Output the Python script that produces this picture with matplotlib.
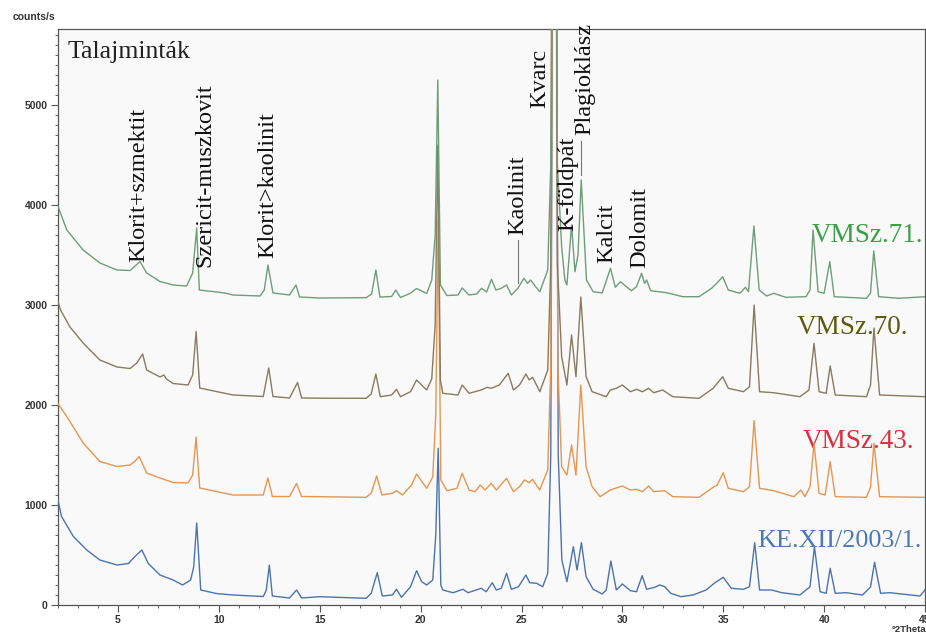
import matplotlib
matplotlib.use("Agg")
import matplotlib.pyplot as plt
from matplotlib.ticker import MultipleLocator

# ---------------- data ----------------
# (2theta [deg], counts/s) pairs for each diffractogram
vmsz71 = [(2.0, 4000), (2.46, 3750), (3.27, 3550), (4.1, 3420), (4.95, 3350), (5.6, 3345),
          (5.9, 3400), (6.09, 3435), (6.42, 3320), (7.08, 3235), (7.73, 3200), (8.4, 3190),
          (8.7, 3320), (8.9, 3770), (9.03, 3150), (10.3, 3120), (10.7, 3100), (12.04, 3090),
          (12.25, 3150), (12.43, 3400), (12.68, 3120), (13.5, 3100), (13.82, 3200), (14.0, 3080),
          (15.0, 3070), (17.3, 3073), (17.57, 3110), (17.78, 3350), (17.98, 3080), (18.56, 3085),
          (18.77, 3150), (19.0, 3075), (19.47, 3115), (19.8, 3165), (20.3, 3115), (20.55, 3250),
          (20.72, 3700), (20.85, 5250), (20.98, 3200), (21.3, 3095), (21.85, 3100), (22.06, 3170),
          (22.4, 3100), (22.77, 3110), (23.02, 3167), (23.27, 3130), (23.51, 3257), (23.73, 3150),
          (24.0, 3167), (24.26, 3200), (24.5, 3100), (24.82, 3167), (25.12, 3267), (25.3, 3217),
          (25.45, 3250), (25.7, 3183), (25.91, 3133), (26.3, 3350), (26.45, 4400), (26.62, 12000),
          (26.78, 4400), (26.99, 3583), (27.15, 3250), (27.25, 3200), (27.48, 3800), (27.65, 3333),
          (27.8, 3500), (27.96, 4250), (28.22, 3250), (28.55, 3133), (29.0, 3120), (29.41, 3367),
          (29.65, 3177), (29.9, 3233), (30.2, 3183), (30.45, 3143), (30.7, 3183), (30.95, 3317),
          (31.1, 3217), (31.2, 3250), (31.4, 3143), (32.19, 3123), (33.0, 3083), (33.8, 3083),
          (34.42, 3167), (34.75, 3233), (34.97, 3283), (35.25, 3150), (35.83, 3117), (36.1, 3177),
          (36.25, 3133), (36.52, 3790), (36.78, 3150), (37.15, 3090), (37.5, 3117), (38.1, 3077),
          (39.1, 3083), (39.3, 3150), (39.45, 3750), (39.7, 3133), (40.0, 3117), (40.28, 3433),
          (40.5, 3083), (42.1, 3067), (42.3, 3120), (42.46, 3540), (42.7, 3083), (43.7, 3067),
          (45.0, 3083)]

vmsz70 = [(2.0, 3050), (2.15, 2950), (2.62, 2780), (3.27, 2620), (4.1, 2450), (4.95, 2380),
          (5.6, 2365), (5.93, 2420), (6.22, 2510), (6.42, 2350), (7.08, 2280), (7.28, 2300),
          (7.4, 2260), (7.73, 2215), (8.47, 2200), (8.7, 2300), (8.87, 2735), (9.05, 2170),
          (9.87, 2135), (10.7, 2100), (12.2, 2085), (12.47, 2370), (12.68, 2085), (13.5, 2070),
          (13.9, 2225), (14.1, 2070), (15.0, 2068), (17.3, 2067), (17.55, 2110), (17.78, 2310),
          (18.0, 2083), (18.56, 2100), (18.8, 2157), (19.0, 2083), (19.5, 2133), (19.8, 2250),
          (20.3, 2150), (20.55, 2260), (20.72, 2800), (20.85, 4600), (20.98, 2250), (21.1, 2117),
          (21.85, 2100), (22.06, 2200), (22.4, 2117), (23.0, 2150), (23.3, 2177), (23.5, 2167),
          (23.9, 2200), (24.34, 2317), (24.6, 2150), (24.9, 2200), (25.22, 2310), (25.38, 2250),
          (25.55, 2277), (25.91, 2133), (26.3, 2350), (26.45, 3400), (26.62, 12000), (26.78, 3400),
          (26.99, 2483), (27.25, 2200), (27.48, 2700), (27.7, 2283), (27.94, 3080), (28.2, 2283),
          (28.5, 2133), (29.2, 2083), (29.4, 2150), (29.7, 2167), (30.0, 2200), (30.4, 2133),
          (30.7, 2157), (31.0, 2133), (31.3, 2167), (31.55, 2123), (32.0, 2150), (32.5, 2083),
          (33.8, 2067), (34.5, 2167), (34.97, 2283), (35.25, 2167), (36.0, 2133), (36.3, 2183),
          (36.53, 3000), (36.8, 2133), (37.5, 2123), (38.8, 2083), (39.25, 2150), (39.5, 2617),
          (39.75, 2133), (40.1, 2117), (40.3, 2390), (40.55, 2100), (42.1, 2083), (42.3, 2200),
          (42.47, 2770), (42.75, 2100), (45.0, 2083)]

vmsz43 = [(2.0, 2020), (2.46, 1885), (3.27, 1620), (4.1, 1435), (4.95, 1385), (5.6, 1400),
          (5.85, 1440), (6.05, 1485), (6.42, 1320), (7.08, 1270), (7.73, 1225), (8.47, 1220),
          (8.7, 1300), (8.87, 1680), (9.05, 1170), (9.87, 1135), (10.7, 1100), (12.2, 1100),
          (12.43, 1270), (12.65, 1085), (13.5, 1085), (13.85, 1215), (14.1, 1085), (15.0, 1083),
          (17.3, 1077), (17.55, 1120), (17.82, 1290), (18.08, 1100), (18.6, 1117), (18.8, 1143),
          (19.1, 1100), (19.55, 1200), (19.8, 1310), (20.3, 1167), (20.6, 1280), (20.75, 1900),
          (20.87, 3850), (21.0, 1250), (21.3, 1143), (21.8, 1167), (22.06, 1317), (22.4, 1150),
          (22.7, 1133), (22.95, 1200), (23.2, 1150), (23.5, 1217), (23.75, 1150), (24.26, 1267),
          (24.6, 1133), (24.9, 1183), (25.15, 1250), (25.38, 1223), (25.55, 1257), (25.9, 1150),
          (26.3, 1350), (26.45, 2400), (26.64, 12000), (26.8, 2400), (26.99, 1383), (27.25, 1300),
          (27.48, 1600), (27.7, 1300), (27.94, 2200), (28.2, 1383), (28.5, 1183), (28.9, 1083),
          (29.4, 1150), (30.0, 1190), (30.4, 1150), (30.7, 1157), (31.0, 1133), (31.3, 1190),
          (31.55, 1133), (32.1, 1143), (32.5, 1083), (33.8, 1077), (34.5, 1177), (34.7, 1200),
          (35.0, 1323), (35.25, 1167), (36.0, 1133), (36.3, 1183), (36.53, 1843), (36.8, 1167),
          (37.5, 1143), (38.5, 1083), (38.85, 1150), (39.05, 1083), (39.3, 1183), (39.5, 1617),
          (39.75, 1117), (40.05, 1100), (40.3, 1433), (40.55, 1083), (42.1, 1077), (42.3, 1180),
          (42.47, 1617), (42.75, 1083), (45.0, 1077)]

ke_xii = [(2.0, 1070), (2.2, 885), (2.79, 685), (3.45, 550), (4.1, 450), (4.95, 400),
          (5.52, 415), (5.76, 470), (6.18, 550), (6.5, 415), (7.08, 300), (7.73, 250),
          (8.2, 200), (8.6, 250), (8.75, 380), (8.9, 820), (9.1, 150), (9.87, 115),
          (10.7, 100), (12.2, 85), (12.35, 150), (12.5, 400), (12.65, 90), (13.5, 70),
          (13.85, 150), (14.1, 70), (15.0, 83), (17.3, 67), (17.55, 117), (17.85, 323),
          (18.1, 90), (18.6, 100), (18.8, 157), (19.05, 77), (19.5, 183), (19.8, 343),
          (20.05, 233), (20.3, 200), (20.6, 250), (20.75, 700), (20.87, 1567), (21.0, 200),
          (21.1, 150), (21.6, 123), (22.1, 157), (22.35, 123), (23.0, 167), (23.25, 133),
          (23.55, 223), (23.75, 150), (24.0, 167), (24.26, 317), (24.5, 157), (24.85, 183),
          (25.22, 300), (25.4, 223), (25.75, 217), (26.05, 183), (26.3, 317), (26.45, 1500),
          (26.64, 12000), (26.82, 1500), (27.0, 450), (27.25, 233), (27.57, 583), (27.75, 350),
          (27.97, 623), (28.2, 283), (28.55, 157), (29.0, 110), (29.2, 150), (29.43, 440),
          (29.7, 150), (30.0, 210), (30.4, 143), (30.7, 133), (30.98, 293), (31.2, 157),
          (31.6, 177), (31.85, 200), (32.1, 183), (32.4, 117), (32.9, 83), (33.5, 100),
          (34.15, 150), (34.55, 217), (35.0, 277), (35.4, 167), (36.0, 157), (36.3, 183),
          (36.56, 623), (36.8, 150), (37.4, 150), (37.9, 123), (38.8, 100), (39.3, 183),
          (39.52, 583), (39.8, 133), (40.1, 117), (40.3, 367), (40.55, 117), (41.1, 123),
          (41.9, 100), (42.3, 180), (42.5, 427), (42.8, 117), (43.25, 123), (44.75, 90),
          (45.0, 150)]

series_names = ["KE.XII/2003/1.", "VMSz.43.", "VMSz.70.", "VMSz.71."]
series_data = [ke_xii, vmsz43, vmsz70, vmsz71]
line_colors = ["#4d73ad", "#e6964f", "#877b60", "#6f9d7a"]
label_colors = ["#4a78b8", "#d8303c", "#5c5a14", "#3aa048"]
# label anchor (2theta, counts) - left / vertically centred
label_pos = [(36.66, 640), (38.94, 1630), (38.65, 2770), (39.39, 3690)]
label_sizes = [18.8, 19.5, 19.5, 19.5]

minerals = ["Klorit+szmektit", "Szericit-muszkovit", "Klorit>kaolinit", "Kaolinit",
            "Kvarc", "K-földpát", "Plagioklász", "Kalcit", "Dolomit"]
# (2theta centre, counts at bottom of text)
mineral_pos = [(6.04, 3430), (9.31, 3380), (12.43, 3470), (24.82, 3700),
               (25.91, 4970), (27.30, 3740), (28.14, 4700), (29.23, 3420), (30.87, 3370)]

x_ticks = [5, 10, 15, 20, 25, 30, 35, 40, 45]
y_ticks = [0, 1000, 2000, 3000, 4000, 5000]

# ---------------- figure ----------------
fig = plt.figure(figsize=(9.26, 6.32), dpi=100, facecolor="white")
ax = fig.add_axes([57.5 / 926, 27 / 632, (925 - 57.5) / 926, (605 - 29) / 632])
ax.set_facecolor("#f9f9f9")

for name, data, lc, tc, (lx, ly), fs in zip(series_names, series_data, line_colors,
                                            label_colors, label_pos, label_sizes):
    xs = [p[0] for p in data]
    ys = [p[1] for p in data]
    ax.plot(xs, ys, color=lc, lw=1.0, zorder=3)
    ax.text(lx, ly, name, color=tc, fontsize=fs, family="Liberation Serif",
            ha="left", va="center", zorder=2)

for m, (mx, my) in zip(minerals, mineral_pos):
    ax.text(mx, my, m, rotation=90, ha="center", va="bottom", fontsize=17.5,
            family="Liberation Serif", color="#111111", zorder=4)

# leader lines
ax.plot([24.85, 24.85], [3650, 3220], color="#777777", lw=0.8, zorder=4)
ax.plot([27.96, 27.96], [4640, 4300], color="#777777", lw=0.8, zorder=4)

ax.text(2.5, 5530, "Talajminták", fontsize=18.5, family="Liberation Serif",
        color="#222222", ha="left", va="center", zorder=4)

ax.set_xlim(2, 45)
ax.set_ylim(0, 5760)
ax.set_xticks(x_ticks)
ax.set_yticks(y_ticks)
ax.xaxis.set_minor_locator(MultipleLocator(1))
ax.yaxis.set_minor_locator(MultipleLocator(100))
ax.tick_params(axis="both", which="major", direction="out", length=5, width=0.8,
               color="#555555", labelsize=7.5, labelcolor="#333333", pad=2)
ax.tick_params(axis="both", which="minor", direction="out", length=2.5, width=0.7,
               color="#666666")
for lab in ax.get_xticklabels() + ax.get_yticklabels():
    lab.set_fontweight("bold")
    lab.set_family("Liberation Sans")
for s in ax.spines.values():
    s.set_color("#555555")
    s.set_linewidth(0.9)

fig.text(13 / 926, 1 - 17 / 632, "counts/s", fontsize=7.5, fontweight="bold",
         family="Liberation Sans", color="#333333", ha="left", va="center")
fig.text(892 / 926, 1 - 629.5 / 632, "°2Theta", fontsize=6.8, fontweight="bold",
         family="Liberation Sans", color="#333333", ha="left", va="center")

fig.savefig("out.png", dpi=100, facecolor=fig.get_facecolor())
